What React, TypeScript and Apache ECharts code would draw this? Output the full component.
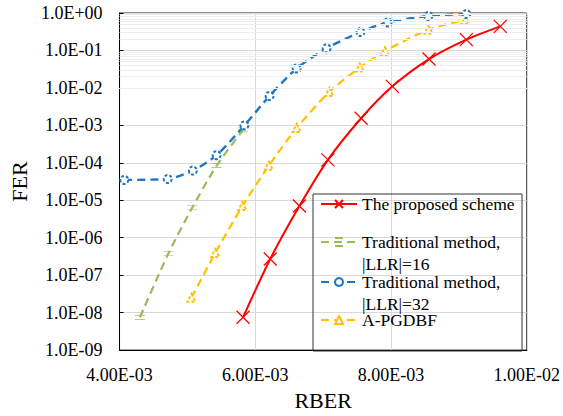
import React, { useEffect, useRef } from "react";
import * as echarts from "echarts";

const seriesNames = [
  "The proposed scheme",
  "Traditional method,\n|LLR|=16",
  "Traditional method,\n|LLR|=32",
  "A-PGDBF",
];

const proposedRber = [5.82e-3, 6.22e-3, 6.65e-3, 7.07e-3, 7.56e-3, 8.02e-3, 8.56e-3, 9.11e-3, 9.61e-3];
const proposedFer = [7.5e-9, 2.7e-7, 7e-6, 1.2e-4, 1.55e-3, 1.1e-2, 5.9e-2, 0.195, 0.44];

const llr16Rber = [4.3e-3, 4.72e-3, 5.07e-3, 5.43e-3, 5.82e-3];
const llr16Fer = [7.5e-9, 3.8e-7, 6.3e-6, 8.4e-5, 7.6e-4];

const llr32Rber = [4.07e-3, 4.71e-3, 5.08e-3, 5.43e-3, 5.84e-3, 6.21e-3, 6.61e-3, 7.05e-3, 7.55e-3, 7.95e-3, 8.55e-3, 9.11e-3];
const llr32Fer = [3.5e-5, 3.7e-5, 6.2e-5, 1.6e-4, 1.0e-3, 6.1e-3, 3.3e-2, 0.114, 0.31, 0.56, 0.83, 0.94];

const apgdbfRber = [5.06e-3, 5.41e-3, 5.81e-3, 6.2e-3, 6.61e-3, 7.09e-3, 7.54e-3, 7.91e-3, 8.55e-3, 9.09e-3];
const apgdbfFer = [2.5e-8, 3.9e-7, 7e-6, 8.4e-5, 8.5e-4, 7.8e-3, 3.5e-2, 0.096, 0.36, 0.65];

const xTickValues = [0.004, 0.006, 0.008, 0.01];
const xTickLabels = ["4.00E-03", "6.00E-03", "8.00E-03", "1.00E-02"];
const yTickExponents = [-9, -8, -7, -6, -5, -4, -3, -2, -1, 0];
const yTickLabels = ["1.0E-09", "1.0E-08", "1.0E-07", "1.0E-06", "1.0E-05", "1.0E-04", "1.0E-03", "1.0E-02", "1.0E-01", "1.0E+00"];

const FONT = "Liberation Serif";

function pairs(xs: number[], ys: number[]) {
  return xs.map((x, i) => [x, ys[i]]);
}

export default function App() {
  const ref = useRef<HTMLDivElement>(null);
  useEffect(() => {
    if (!ref.current) return;
    const chart = echarts.init(ref.current, undefined, { renderer: "svg" });

    const minorLines: { yAxis: number }[] = [];
    for (let e = -9; e < 0; e++) {
      for (let m = 2; m <= 9; m++) minorLines.push({ yAxis: m * Math.pow(10, e) });
    }

    const dash = [8, 5];
    const legendBase = {
      orient: "vertical",
      left: 320,
      padding: 0,
      itemWidth: 36,
      itemHeight: 10,
      itemGap: 0,
      selectedMode: false,
      textStyle: { fontFamily: FONT, fontSize: 17.5, color: "#000", lineHeight: 22 },
    };
    // two-line entries: an empty leading line keeps the icon level with the first text line
    const twoLineFormatter = (name: string) => "\n" + name;

    chart.setOption({
      animation: false,
      backgroundColor: "#fff",
      grid: { left: 107, right: 34, top: 13, bottom: 60, show: true, borderColor: "#222", borderWidth: 1 },
      xAxis: {
        type: "value",
        min: 0.004,
        max: 0.01,
        interval: 0.002,
        name: "RBER",
        nameLocation: "middle",
        nameGap: 36,
        nameTextStyle: { fontFamily: FONT, fontSize: 22, color: "#000" },
        axisLine: { show: true, lineStyle: { color: "#000" } },
        axisTick: { show: false },
        axisLabel: {
          fontFamily: FONT,
          fontSize: 18,
          color: "#000",
          margin: 16,
          formatter: (v: number) => {
            const i = xTickValues.findIndex((t) => Math.abs(t - v) < 1e-9);
            return i >= 0 ? xTickLabels[i] : "";
          },
        },
        splitLine: { show: true, lineStyle: { color: "#d9d9d9", width: 1 } },
      },
      yAxis: {
        type: "log",
        logBase: 10,
        min: 1e-9,
        max: 1,
        interval: 1,
        name: "FER",
        nameLocation: "middle",
        nameGap: 78,
        nameTextStyle: { fontFamily: FONT, fontSize: 22, color: "#000" },
        axisLine: { show: true, lineStyle: { color: "#000" } },
        axisTick: { show: true, inside: true, length: 4, lineStyle: { color: "#000" } },
        axisLabel: {
          fontFamily: FONT,
          fontSize: 18,
          color: "#000",
          margin: 17,
          formatter: (v: number) => {
            const e = Math.round(Math.log10(v));
            const i = yTickExponents.indexOf(e);
            return i >= 0 ? yTickLabels[i] : "";
          },
        },
        splitLine: { show: true, lineStyle: { color: "#d9d9d9", width: 1 } },
      },
      legend: [
        { ...legendBase, top: 193, data: [seriesNames[0]] },
        { ...legendBase, top: 209, data: [seriesNames[1]], formatter: twoLineFormatter },
        { ...legendBase, top: 249, data: [seriesNames[2]], formatter: twoLineFormatter },
        { ...legendBase, top: 309, data: [seriesNames[3]] },
      ],
      graphic: [
        {
          type: "rect",
          shape: { x: 313, y: 194, width: 209, height: 157 },
          style: { fill: "none", stroke: "#333", lineWidth: 1 },
          silent: true,
          z: 10,
        },
      ],
      series: [
        {
          type: "line",
          name: "minor-grid",
          data: [],
          z: 0,
          silent: true,
          markLine: {
            silent: true,
            symbol: "none",
            label: { show: false },
            lineStyle: { color: "#eeeeee", width: 1, type: "solid" },
            data: minorLines,
          },
        },
        {
          type: "line",
          name: seriesNames[0],
          data: pairs(proposedRber, proposedFer),
          smooth: 0.25,
          symbol: "path://M0,0L10,10M10,0L0,10",
          symbolSize: 13,
          lineStyle: { color: "#ff0000", width: 2 },
          itemStyle: { color: "#ff0000", borderColor: "#ff0000", borderWidth: 1.3 },
          z: 5,
        },
        {
          type: "line",
          name: seriesNames[1],
          data: pairs(llr16Rber, llr16Fer),
          smooth: 0.25,
          symbol: "path://M0,0L10,0M0,4L10,4",
          symbolSize: [10, 4],
          lineStyle: { color: "#9bbb59", width: 2.2, type: dash },
          itemStyle: { color: "#9bbb59", borderColor: "#9bbb59", borderWidth: 1 },
          z: 3,
        },
        {
          type: "line",
          name: seriesNames[2],
          data: pairs(llr32Rber, llr32Fer),
          smooth: 0.25,
          symbol: "emptyCircle",
          symbolSize: 8,
          lineStyle: { color: "#1f77c4", width: 2.4, type: dash },
          itemStyle: { color: "#1f77c4", borderColor: "#1f77c4", borderWidth: 1.2, borderType: [3, 2] },
          z: 4,
        },
        {
          type: "line",
          name: seriesNames[3],
          data: pairs(apgdbfRber, apgdbfFer),
          smooth: 0.25,
          symbol: "emptyTriangle",
          symbolSize: 8,
          lineStyle: { color: "#ffc000", width: 2.2, type: dash },
          itemStyle: { color: "#ffc000", borderColor: "#ffc000", borderWidth: 1.2, borderType: [3, 2] },
          z: 3,
        },
      ],
    });
    return () => chart.dispose();
  }, []);
  return <div ref={ref} style={{ position: "fixed", left: 0, top: 0, width: 563, height: 416 }} />;
}
